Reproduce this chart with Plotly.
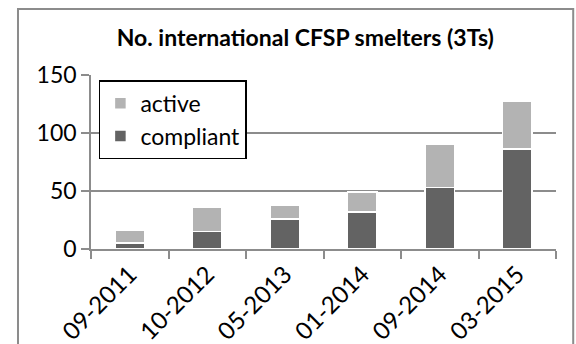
import plotly.graph_objects as go

categories = ["09-2011", "10-2012", "05-2013", "01-2014", "09-2014", "03-2015"]
compliant = [5, 15, 26, 32, 53, 86]
active_total = [16, 36, 38, 49, 90, 127]
active = [t - c for t, c in zip(active_total, compliant)]
y_ticks = [0, 50, 100, 150]

FONT = "Lato, 'Open Sans', sans-serif"

fig = go.Figure()
fig.add_trace(go.Bar(
    x=categories, y=compliant, name="compliant",
    marker=dict(color="#636363", line=dict(color="white", width=1.5)),
))
fig.add_trace(go.Bar(
    x=categories, y=active, name="active",
    marker=dict(color="#b3b3b3", line=dict(color="white", width=1.5)),
))

fig.update_layout(
    width=576, height=344,
    barmode="stack", bargap=0.62,
    paper_bgcolor="white", plot_bgcolor="white",
    margin=dict(l=91, r=20, t=75, b=95, autoexpand=False),
    font=dict(family=FONT, color="black"),
    title=dict(text="<b>No. international CFSP smelters (3Ts)</b>",
               x=0.53, xanchor="center", y=0.89, yanchor="middle",
               font=dict(size=23, family=FONT, color="black")),
    showlegend=True,
    legend=dict(x=0.017, y=0.97, xanchor="left", yanchor="top",
                traceorder="reversed", bgcolor="white",
                bordercolor="black", borderwidth=1.5,
                font=dict(size=23, family=FONT, color="black"),
                itemwidth=30),
    xaxis=dict(showgrid=False, showline=True, linecolor="#8c8c8c", linewidth=1.5,
               automargin=False,
               ticks="outside", tickson="boundaries", ticklen=8,
               tickcolor="#8c8c8c", tickwidth=1.5,
               tickangle=-45, tickfont=dict(size=24, family=FONT, color="black")),
    yaxis=dict(range=[0, 150], tickvals=y_ticks, showgrid=True,
               gridcolor="#8c8c8c", gridwidth=1.5, automargin=False,
               showline=True, linecolor="#8c8c8c", linewidth=1.5,
               ticks="outside", ticklen=8, tickcolor="#8c8c8c", tickwidth=1.5,
               zeroline=False, ticksuffix="\u00a0\u00a0\u00a0",
               tickfont=dict(size=23, family=FONT, color="black")),
    shapes=[dict(type="rect", xref="paper", yref="paper",
                 x0=-0.157, x1=1.037, y0=-0.6, y1=1.379,
                 line=dict(color="#8c8c8c", width=2), layer="below")],
)

fig.write_html("out.html")
